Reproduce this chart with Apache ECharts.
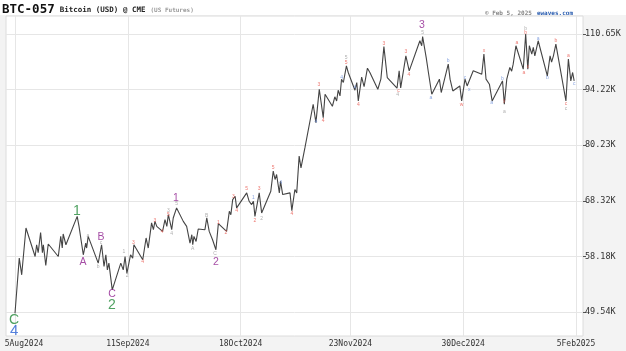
<!DOCTYPE html>
<html>
<head>
<meta charset="utf-8">
<title>BTC-057 Bitcoin (USD) @ CME</title>
<script src="https://cdn.jsdelivr.net/npm/echarts@6.0.0/dist/echarts.min.js"></script>
<style>
    body { margin: 0; background: #fff; }
    #main { width: 626px; height: 351px; }
</style>
</head>
<body>
<div id="main"></div>
<script>
// x = days counted from 5 Aug 2024, y = price in thousands of USD
var days = [0, 1.4, 2.2, 3.6, 6.6, 7.1, 7.6, 8.4, 9.0, 9.3, 10.1, 10.9, 14.2, 15.0, 15.5, 15.8, 16.7,
    20.4, 21.0, 21.5, 22.4, 23.2, 23.5, 24.0, 27.3, 28.4, 29.2, 29.8, 30.3, 30.8, 31.9,
    34.7, 35.5, 36.1, 36.7, 37.9, 38.6, 39.0, 41.9, 43.0, 43.7, 44.8, 45.4, 45.9, 46.5,
    48.4, 49.2, 49.8, 50.3, 50.8, 51.4, 51.9, 53.0, 55.2, 56.3, 57.4, 58.0, 58.3, 58.7,
    59.4, 60.1, 62.3, 62.9, 63.7, 64.2, 64.8, 65.3, 65.9, 66.7, 69.4, 70.3, 70.8, 71.4,
    72.2, 72.7, 76.0, 76.8, 77.6, 78.2, 78.7, 80.1, 80.9, 83.9, 84.7, 85.3, 85.8, 86.7,
    87.1, 87.8, 90.2, 90.8, 91.8, 92.4, 93.2, 93.8, 95.1, 97.8, 98.7, 99.8, 101.1, 101.7,
    104.1, 104.9, 105.5, 106.0, 106.6, 107.1, 107.7, 108.7, 109.3, 111.5, 112.1, 112.6,
    113.7, 114.5, 115.6, 116.4, 119.0, 120.0, 121.0, 122.1, 125.3, 126.0, 126.5, 128.2,
    129.3, 132.8, 133.4, 133.7, 134.9, 135.6, 136.7, 139.2, 139.8, 142.1, 142.7, 143.6,
    145.9, 146.5, 147.6, 148.3, 150.3, 153.1, 153.8, 154.5, 155.6, 156.5, 159.9, 160.5,
    161.3, 162.3, 162.9, 163.4, 164.3, 166.7, 167.5, 168.2, 168.7, 169.5, 170.0, 170.5,
    171.6, 174.6, 175.5, 176.0, 176.6, 177.4, 180.7, 181.5, 182.3, 182.9, 183.4];
var prices = [49.35, 57.89, 55.16, 63.16, 58.16, 60.17, 58.79, 62.31, 58.79, 60.17, 56.66, 60.30, 58.16, 61.64, 59.60, 62.07, 60.17,
    65.32, 63.46, 63.20, 58.45, 60.47, 59.60, 61.64, 57.06, 60.17, 56.50, 58.45, 55.96, 57.06, 52.81,
    57.06, 55.96, 58.16, 55.40, 58.45, 57.89, 60.17, 57.61, 61.36, 59.60, 64.09, 62.85, 64.38, 63.46,
    62.54, 64.70, 63.46, 65.64, 64.38, 62.85, 65.02, 66.94, 64.38, 63.46, 60.47, 61.94, 60.17, 61.64,
    60.75, 62.98, 62.85, 65.02, 62.54, 62.85, 61.05, 61.36, 59.31, 63.96, 62.54, 66.28, 65.64, 68.57,
    69.23, 66.94, 69.91, 68.23, 67.58, 68.23, 65.32, 69.91, 65.97, 70.24, 74.44, 72.67, 73.73, 69.91,
    72.31, 69.57, 69.91, 66.42, 70.59, 69.91, 77.75, 75.17, 79.67, 90.34, 85.67, 94.36, 86.92, 93.00,
    89.82, 92.32, 91.21, 94.09, 92.54, 97.14, 96.21, 100.96, 99.04, 94.09, 96.21, 91.21,
    97.70, 95.04, 100.28, 99.04, 94.36, 97.14, 106.74, 97.61, 94.63, 99.50, 94.72, 103.93,
    99.50, 108.56, 107.00, 109.89, 103.24, 99.04, 93.00, 97.14, 93.46, 101.46, 97.14, 93.89,
    95.26, 91.21, 97.14, 95.26, 99.56, 98.55, 104.44, 97.14, 95.74, 91.21, 96.66, 90.34,
    97.14, 100.49, 99.41, 101.46, 107.00, 99.99, 110.69, 99.99, 107.00, 104.44, 106.50, 103.93,
    108.56, 98.07, 103.93, 102.05, 103.93, 107.52, 91.21, 102.95, 96.66, 99.04, 96.66];

var xTicks = [0, 37, 74, 110, 147, 184];
var xLabels = ['5Aug2024', '11Sep2024', '18Oct2024', '23Nov2024', '30Dec2024', '5Feb2025'];
var yTicks = [49.54, 58.18, 68.32, 80.23, 94.22, 110.65];

// wave labels: [day, price, text]
var greenWaves = [[-0.3, 48.40, 'C'], [20.3, 66.22, '1'], [31.8, 50.56, '2']];
var blueWaves = [[-0.3, 46.88, '4']];
var purpleWaves = [[22.3, 57.28, 'A'], [28.2, 61.59, 'B'], [31.8, 52.20, 'C'], [52.8, 68.77, '1'],
    [65.9, 57.28, '2'], [133.5, 113.61, '3']];
var redMarks = [[38.8, 60.47, '3'], [41.9, 57.23, '4'], [45.9, 64.57, '3'], [48.3, 62.49, '4'], [50.3, 65.64, '5'],
    [66.7, 64.09, '1'], [69.2, 62.36, '2'], [71.6, 69.23, '3'], [72.7, 66.47, '4'], [76.0, 70.79, '5'],
    [78.7, 64.57, '2'], [80.1, 70.68, '3'], [84.7, 75.24, '5'], [90.8, 65.93, '4'], [99.7, 95.70, '3'],
    [101.1, 86.24, '4'], [108.6, 101.99, '5'], [112.6, 90.26, '4'], [121.0, 107.80, '3'], [125.8, 94.09, 'c'],
    [128.2, 105.19, '3'], [129.2, 98.55, '4'], [146.5, 90.34, 'w'], [153.8, 105.64, 'x'], [160.5, 91.28, 'y'],
    [164.6, 107.98, 'a'], [166.9, 98.98, 'a'], [167.5, 111.0, 'b'], [168.3, 100.86, 'c'], [177.4, 108.63, 'b'],
    [180.7, 90.47, 'c'], [181.5, 103.85, 'a']];
var greyMarks = [[23.9, 61.82, 'a'], [27.3, 56.53, 'b'], [28.2, 60.58, 'c'], [35.7, 59.05, '1'], [36.8, 54.99, '2'],
    [50.3, 66.41, '3'], [51.4, 62.21, '4'], [53.0, 67.78, '5'], [58.3, 59.56, 'A'], [62.9, 65.55, 'B'],
    [65.6, 58.62, 'C'], [80.9, 64.89, '2'], [108.6, 103.39, '5'], [125.5, 92.86, '4'], [133.7, 111.19, '5'],
    [160.5, 88.39, 'a'], [167.5, 112.47, 'b'], [180.7, 89.16, 'c']];
var blueMarks = [[78.2, 68.97, '1'], [87.1, 71.92, '4'], [98.7, 86.00, '4'], [107.1, 97.70, '4'], [111.5, 94.92, '4'],
    [136.4, 92.05, 'a'], [142.1, 102.44, 'b'], [147.6, 97.56, 'c'], [149.0, 94.36, 'x'], [156.3, 90.74, 'a'],
    [159.9, 97.41, 'b'], [171.6, 109.25, 'a'], [174.6, 97.56, 'b'], [183.4, 96.0, 'c']];

var mono = 'DejaVu Sans Mono';

function waveSeries(data, color, size, weight) {
    return {
        type: 'scatter',
        data: data,
        symbolSize: 0,
        silent: true,
        clip: false,
        z: 5,
        label: {
            show: true,
            position: 'inside',
            formatter: function (p) { return p.data[2]; },
            color: color,
            fontSize: size,
            fontWeight: weight,
            fontFamily: 'Liberation Sans'
        }
    };
}

var chart = echarts.init(document.getElementById('main'));
var option = {
    animation: false,
    backgroundColor: '#f3f3f3',
    graphic: [{
        type: 'rect', left: 0, top: 0, z: -10,
        shape: { width: 626, height: 15 },
        style: { fill: '#ffffff' }
    }],
    title: [{
        left: 2, top: 1, padding: 0,
        text: '{a|BTC-057} {b|Bitcoin (USD) @ CME} {c|(US Futures)}',
        textStyle: {
            rich: {
                a: { fontFamily: mono, fontWeight: 'bold', fontSize: 12.5, color: '#111' },
                b: { fontFamily: mono, fontWeight: 'bold', fontSize: 7.5, color: '#222' },
                c: { fontFamily: mono, fontSize: 6, color: '#999' }
            }
        }
    }, {
        right: 53, top: 4, padding: 0,
        text: '{a|\u00a9 Feb 5, 2025} {b|ewaves.com}',
        textStyle: {
            rich: {
                a: { fontFamily: mono, fontSize: 6, color: '#888' },
                b: { fontFamily: mono, fontSize: 6, fontWeight: 'bold', color: '#2a5db0' }
            }
        }
    }],
    grid: {
        left: 6, right: 43, top: 16, bottom: 15,
        show: true, backgroundColor: '#ffffff', borderColor: '#dcdcdc', borderWidth: 1,
        outerBoundsMode: 'none'
    },
    xAxis: {
        type: 'value',
        min: -2.95, max: 186.3,
        axisLine: { show: false, onZero: false },
        axisTick: { show: false, customValues: xTicks },
        splitLine: { show: true, lineStyle: { color: '#e6e6e6', width: 1 } },
        axisLabel: {
            customValues: xTicks,
            margin: 4,
            fontFamily: mono, fontSize: 8, color: '#333',
            formatter: function (v) {
                var i = xTicks.indexOf(Math.round(v));
                if (i === 0) return '{first|' + xLabels[0] + '}';
                return i >= 0 ? xLabels[i] : '';
            },
            rich: { first: { fontFamily: mono, fontSize: 8, color: '#333', padding: [0, 0, 0, 18] } }
        }
    },
    yAxis: {
        type: 'log',
        logBase: 10,
        position: 'right',
        min: 46.21, max: 116.62,
        axisLine: { show: false, onZero: false },
        axisTick: { show: true, customValues: yTicks, length: 3, lineStyle: { color: '#555' } },
        splitLine: { show: true, lineStyle: { color: '#e6e6e6', width: 1 } },
        axisLabel: {
            customValues: yTicks,
            margin: 2,
            fontFamily: mono, fontSize: 8.5, color: '#333',
            formatter: function (v) { return v.toFixed(2) + 'K'; }
        }
    },
    series: [{
        type: 'line',
        data: days.map(function (d, i) { return [d, prices[i]]; }),
        symbol: 'none',
        lineStyle: { color: '#444', width: 1.1 },
        z: 3
    },
        waveSeries(redMarks, '#e8564e', 5, 'normal'),
        waveSeries(greyMarks, '#9a9a9a', 5, 'normal'),
        waveSeries(blueMarks, '#6d8fd8', 5, 'normal'),
        waveSeries(purpleWaves, '#8e1f8e', 10.5, 'normal'),
        waveSeries(greenWaves, '#23893a', 14, 'normal'),
        waveSeries(blueWaves, '#2a62d6', 15, 'normal')
    ]
};
chart.setOption(option);
</script>
</body>
</html>
